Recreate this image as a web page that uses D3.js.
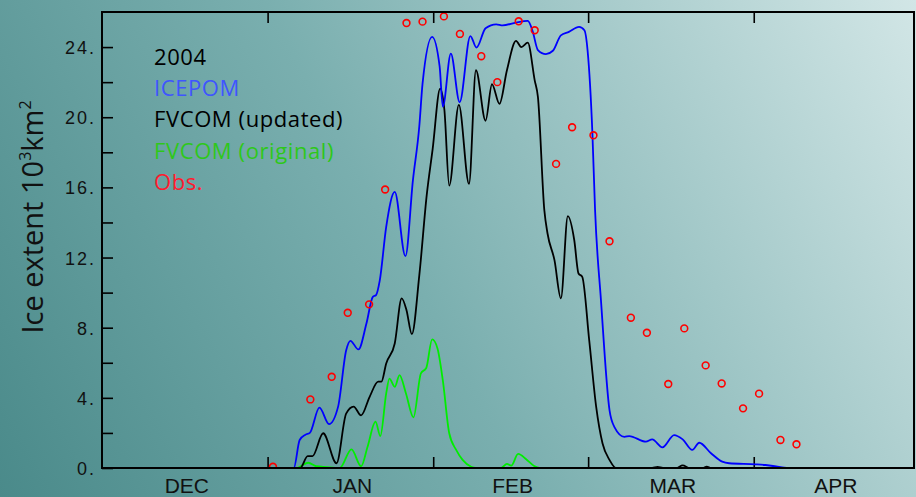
<!DOCTYPE html>
<html>
<head>
<meta charset="utf-8">
<script src="https://cdn.jsdelivr.net/npm/d3@7"></script>
<style>
  html, body { margin: 0; padding: 0; overflow: hidden; }
  svg { display: block; }
</style>
</head>
<body>
<script>
// x values are days since 1 Dec 2003, y values are ice extent (10^3 km^2)
var monthStarts = [0, 31, 62, 91, 122, 152];
var monthLabels = ["DEC", "JAN", "FEB", "MAR", "APR"];
var yTicks = [0, 4, 8, 12, 16, 20, 24];
var yMinor = [2, 6, 10, 14, 18, 22];

var icepom = [[0,0],[35.9,0],[37.0,1.6],[38.1,1.9],[38.9,2.0],[40.7,3.44],[42.5,2.5],[44.2,3.5],
  [45.7,6.7],[46.5,7.25],[48.0,6.76],[49.5,8.24],[50.7,9.76],[51.3,9.86],[52.0,10.7],[53.2,13.75],
  [54.8,15.74],[56.8,12.08],[58.2,16.4],[59.4,19.5],[60.0,21.9],[61.8,24.58],[63.2,22.9],[63.8,20.6],
  [65.3,23.63],[66.95,20.85],[68.95,24.63],[70.1,23.97],[71.8,25.07],[73.8,25.3],[75.0,25.24],
  [77.5,25.4],[79.7,25.49],[80.6,24.92],[81.6,23.83],[83.1,23.6],[84.4,23.79],[85.9,24.67],
  [87.4,24.87],[89.3,25.15],[90.3,24.96],[90.9,23.8],[91.8,19.07],[92.3,14.7],[93.4,9.57],
  [95.0,3.3],[95.9,2.35],[97.8,1.78],[98.7,1.82],[101.8,1.5],[103.0,1.63],[104.9,1.18],[107.1,1.88],
  [108.7,1.63],[110.5,1.03],[111.8,1.44],[114.0,0.84],[116.1,0.36],[117.4,0.27],[122.4,0.21],
  [124.2,0.17],[127.3,0.04],[128.5,0],[152,0]];

var fvcomUpdated = [[0,0],[37.1,0],[38.5,0.68],[39.4,0.68],[41.4,1.98],[43.9,0.27],[45.7,3.1],
  [47.1,3.5],[48.5,3.0],[50.1,4.06],[51.7,4.92],[52.3,4.92],[53.2,5.96],[54.8,7.1],[56.1,9.67],
  [57.0,9.0],[58.0,7.63],[59.4,11.0],[60.8,15.6],[61.9,18.2],[63.3,21.63],[64.1,20.4],[65.0,16.1],
  [66.8,20.7],[68.7,16.2],[70.0,22.68],[71.8,19.8],[73.0,21.88],[74.4,20.76],[75.8,22.68],
  [77.5,24.35],[78.5,24.0],[79.7,24.25],[81.0,22.1],[81.6,21.16],[82.8,14.7],[83.4,13.37],
  [84.7,11.85],[85.9,9.67],[87.2,14.36],[88.4,13.0],[89.2,11.09],[89.9,10.9],[91.2,7.29],
  [92.5,3.5],[93.7,1.4],[95.0,0.46],[96.2,0],[103,0],[104,0.06],[105,0],[107.5,0],[108.7,0.15],
  [110,0],[112.5,0],[113.2,0.08],[114,0],[152,0]];

var fvcomOriginal = [[0,0],[36.5,0],[37.2,0.1],[38.6,0.3],[40.1,0.1],[42,0.05],[44.5,0],
  [46.7,1.06],[48.5,0.1],[49.7,1.2],[51.2,2.64],[52.1,1.82],[53.2,4.25],[53.8,5.1],[54.8,4.63],
  [55.7,5.3],[56.9,4.25],[58.3,2.89],[59.7,5.4],[60.7,5.7],[61.8,7.33],[62.8,6.82],[63.8,5.0],
  [65.0,1.98],[66.3,1.03],[67.5,0.46],[69.1,0.07],[70,0],[74.7,0],[75.8,0.23],[76.6,0.13],
  [77.9,0.8],[79.4,0.5],[80.9,0.11],[81.9,0],[152,0]];

var obsDays = [32,39,43,46,50,53,57,60,64,67,71,74,78,81,85,88,92,95,99,102,106,109,113,116,120,123,127,130];
var obsVals = [0.07,3.91,5.2,8.85,9.33,15.88,25.37,25.45,25.75,24.75,23.48,22.0,25.47,24.96,17.34,
  19.43,18.97,12.93,8.57,7.71,4.79,7.96,5.85,4.82,3.4,4.24,1.6,1.35];

var legend = [
  {label:"2004", color:"#000000"},
  {label:"ICEPOM", color:"#3f55ff"},
  {label:"FVCOM (updated)", color:"#000000"},
  {label:"FVCOM (original)", color:"#2ec81a"},
  {label:"Obs.", color:"#ff1a2e"}
];

var W = 916, H = 497;
var m = {left:102, right:914, top:12, bottom:468};

var svg = d3.select('body').append('svg').attr('width',W).attr('height',H);

// background gradient
var defs = svg.append('defs');
var grad = defs.append('linearGradient').attr('id','bg')
  .attr('gradientUnits','userSpaceOnUse')
  .attr('x1',0).attr('y1',H).attr('x2',W).attr('y2',0);
grad.append('stop').attr('offset',0).attr('stop-color','#4a8a8a');
grad.append('stop').attr('offset',0.45).attr('stop-color','#7aafaf');
grad.append('stop').attr('offset',1).attr('stop-color','#d2e6e6');
svg.append('rect').attr('width',W).attr('height',H).attr('fill','url(#bg)');

defs.append('clipPath').attr('id','plot').append('rect')
  .attr('x',m.left).attr('y',m.top).attr('width',m.right-m.left).attr('height',m.bottom-m.top);

var x = d3.scaleLinear().domain([0,152]).range([m.left,m.right]);
var y = d3.scaleLinear().domain([0,26]).range([m.bottom,m.top]);

// axes: ticks pointing inward
var yAxis = d3.axisRight(y).tickValues(yTicks.concat(yMinor)).tickSize(11).tickFormat('');
svg.append('g').attr('transform','translate('+m.left+',0)').call(yAxis)
  .call(function(g){ g.select('.domain').remove(); })
  .selectAll('line').attr('stroke','#000').attr('stroke-width',1.6);

svg.append('g').selectAll('text').data(yTicks).enter().append('text')
  .attr('x',96).attr('y',function(d){return y(d)+7;})
  .attr('text-anchor','end')
  .style('font-family','"Liberation Sans", Arial, sans-serif').style('font-size','18px')
  .style('letter-spacing','2px')
  .attr('fill','#111')
  .text(function(d){return d+'.';});

var inner = monthStarts.slice(1,5);
var xBottom = d3.axisTop(x).tickValues(inner).tickSize(11).tickFormat('');
svg.append('g').attr('transform','translate(0,'+m.bottom+')').call(xBottom)
  .call(function(g){ g.select('.domain').remove(); })
  .selectAll('line').attr('stroke','#000').attr('stroke-width',1.6);
var xTop = d3.axisBottom(x).tickValues(inner).tickSize(11).tickFormat('');
svg.append('g').attr('transform','translate(0,'+m.top+')').call(xTop)
  .call(function(g){ g.select('.domain').remove(); })
  .selectAll('line').attr('stroke','#000').attr('stroke-width',1.6);

svg.append('g').selectAll('text').data(monthLabels).enter().append('text')
  .attr('x',function(d,i){return (x(monthStarts[i])+x(monthStarts[i+1]))/2+2;})
  .attr('y',493)
  .attr('text-anchor','middle')
  .style('font-family','"Liberation Sans", Arial, sans-serif').style('font-size','21px')
  .attr('fill','#111')
  .text(function(d){return d;});

// y title
var yt = svg.append('text')
  .attr('transform','translate(43,217) rotate(-90)')
  .attr('text-anchor','middle')
  .style('font-family','"Open Sans", sans-serif').style('font-size','29px')
  .attr('fill','#111');
yt.append('tspan').text('Ice extent 10');
yt.append('tspan').attr('dy',-12).style('font-size','16px').text('3');
yt.append('tspan').attr('dy',12).text('km');
yt.append('tspan').attr('dy',-12).style('font-size','16px').text('2');

// curves
var line = d3.line()
  .x(function(d){return x(d[0]);})
  .y(function(d){return y(d[1]);})
  .curve(d3.curveMonotoneX);

var plot = svg.append('g').attr('clip-path','url(#plot)');
plot.append('path').datum(fvcomOriginal).attr('d',line)
  .attr('fill','none').attr('stroke','#00ee00').attr('stroke-width',1.8);
plot.append('path').datum(fvcomUpdated).attr('d',line)
  .attr('fill','none').attr('stroke','#000').attr('stroke-width',1.8);
plot.append('path').datum(icepom).attr('d',line)
  .attr('fill','none').attr('stroke','#0000ff').attr('stroke-width',1.8);

plot.selectAll('circle').data(obsDays).enter().append('circle')
  .attr('cx',function(d){return x(d);})
  .attr('cy',function(d,i){return y(obsVals[i]);})
  .attr('r',3.4)
  .attr('fill','none').attr('stroke','#ff0000').attr('stroke-width',1.6);

// frame
svg.append('rect').attr('x',m.left).attr('y',m.top)
  .attr('width',m.right-m.left).attr('height',m.bottom-m.top)
  .attr('fill','none').attr('stroke','#000').attr('stroke-width',2);

// legend
svg.append('g').selectAll('text').data(legend).enter().append('text')
  .attr('x',154).attr('y',function(d,i){return 65+i*31.2;})
  .style('font-family','"Open Sans", sans-serif').style('font-size','22px')
  .style('letter-spacing','0.6px')
  .attr('fill',function(d){return d.color;})
  .text(function(d){return d.label;});
</script>
</body>
</html>
